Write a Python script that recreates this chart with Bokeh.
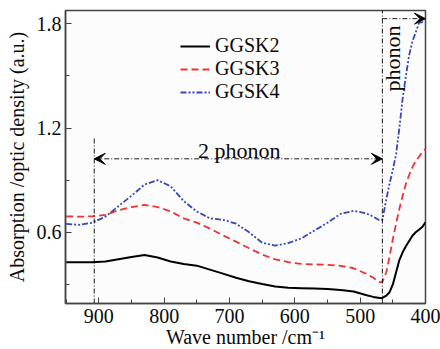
import math
from bokeh.plotting import figure
from bokeh.models import (Range1d, FixedTicker, Legend, LegendItem, Arrow,
                          VeeHead, Label, ColumnDataSource)
from bokeh.embed import file_html
from bokeh.resources import INLINE

# ---------------- data ----------------
wavenumber = [950, 930, 910, 890, 870, 850, 830, 810, 790, 770, 750, 730, 710,
              690, 670, 650, 630, 610, 590, 570, 550, 530, 510, 490, 480, 470,
              466, 460, 455, 450, 445, 440, 435, 430, 425, 420, 415, 410, 405, 400]

ggsk2 = [0.427, 0.427, 0.427, 0.432, 0.445, 0.458, 0.469, 0.455, 0.432, 0.418,
         0.408, 0.385, 0.362, 0.338, 0.318, 0.302, 0.288, 0.280, 0.278, 0.276,
         0.273, 0.268, 0.259, 0.238, 0.228, 0.222, 0.222, 0.235, 0.255, 0.300,
         0.370, 0.440, 0.485, 0.520, 0.550, 0.580, 0.600, 0.615, 0.630, 0.658]

ggsk3 = [0.692, 0.690, 0.692, 0.700, 0.727, 0.745, 0.758, 0.745, 0.720, 0.680,
         0.656, 0.621, 0.583, 0.546, 0.508, 0.472, 0.444, 0.428, 0.418, 0.415,
         0.413, 0.407, 0.393, 0.360, 0.338, 0.312, 0.315, 0.370, 0.460, 0.560,
         0.650, 0.735, 0.810, 0.880, 0.930, 0.975, 1.010, 1.035, 1.060, 1.080]

ggsk4 = [0.648, 0.643, 0.655, 0.690, 0.750, 0.810, 0.875, 0.900, 0.865, 0.780,
         0.720, 0.680, 0.672, 0.650, 0.600, 0.540, 0.523, 0.538, 0.565, 0.610,
         0.655, 0.706, 0.724, 0.708, 0.690, 0.668, 0.672, 0.790, 0.880, 0.960,
         1.050, 1.200, 1.370, 1.500, 1.620, 1.700, 1.750, 1.805, 1.810, 1.810]

series_names = ["GGSK2", "GGSK3", "GGSK4"]

x_ticks = [900, 800, 700, 600, 500, 400]
x_minor = [950, 850, 750, 650, 550, 450]
y_ticks = [0.6, 1.2, 1.8]
y_minor = [0.3, 0.9, 1.5]

# annotation values
two_phonon_edges = [907, 466]      # wavenumbers of the dash-dot guides
left_guide_top = 1.14
two_phonon_level = 1.023
two_phonon_text_pos = (685, 1.07)
phonon_level = 1.83
phonon_text_pos = (451, 1.60)

# ---------------- figure ----------------
FONT = "Liberation Serif"
FS = "20px"
AX = "#444444"
TXT = "#0a0a0a"

p = figure(frame_width=360, frame_height=293, output_backend="svg",
           toolbar_location=None,
           x_range=Range1d(951, 400), y_range=Range1d(0.19, 1.877),
           min_border_left=65, min_border_right=15, min_border_top=10,
           min_border_bottom=46)
p.background_fill_color = "#fcfcfc"
p.border_fill_color = "#ffffff"
p.outline_line_color = AX
p.outline_line_width = 1.5
p.xgrid.visible = False
p.ygrid.visible = False

for ax in (p.xaxis[0], p.yaxis[0]):
    ax.axis_line_color = AX
    ax.axis_line_width = 1.5
    ax.major_tick_line_color = AX
    ax.minor_tick_line_color = AX
    ax.major_tick_in = 6
    ax.major_tick_out = 0
    ax.minor_tick_in = 4
    ax.minor_tick_out = 0
    ax.major_label_text_font = FONT
    ax.major_label_text_font_size = FS
    ax.major_label_text_color = TXT
    ax.axis_label_text_font = FONT
    ax.axis_label_text_font_size = FS
    ax.axis_label_text_font_style = "normal"
    ax.axis_label_text_color = TXT

p.xaxis.ticker = FixedTicker(ticks=x_ticks, minor_ticks=x_minor)
p.yaxis.ticker = FixedTicker(ticks=y_ticks, minor_ticks=y_minor)
p.xaxis.major_label_standoff = 5
p.xaxis.axis_label_standoff = 0
p.yaxis.major_label_standoff = 4
p.yaxis.axis_label_standoff = 6
p.xaxis.axis_label = "Wave number /cm\u207b\u00b9"
p.yaxis.axis_label = "Absorption /optic density (a.u.)"

src = ColumnDataSource(dict(w=wavenumber, a=ggsk2, b=ggsk3, c=ggsk4))
r2 = p.line("w", "a", source=src, line_color="black", line_width=2)
r3 = p.line("w", "b", source=src, line_color="#f03232", line_width=1.8,
            line_dash="7 4")
r4 = p.line("w", "c", source=src, line_color="#3548b4", line_width=1.8,
            line_dash="6 2 2 2 2 2")

# dash-dot guide lines
guide = dict(line_color="black", line_width=0.9, line_dash="5 2 1 2")
p.segment(x0=[two_phonon_edges[0], two_phonon_edges[1]],
          y0=[0.19, 0.19],
          x1=[two_phonon_edges[0], two_phonon_edges[1]],
          y1=[left_guide_top, 1.877], **guide)

p.add_layout(Arrow(start=VeeHead(size=11, fill_color="black", line_color="black"),
                   end=VeeHead(size=11, fill_color="black", line_color="black"),
                   x_start=two_phonon_edges[0], y_start=two_phonon_level,
                   x_end=two_phonon_edges[1], y_end=two_phonon_level, **guide))
p.add_layout(Arrow(start=None,
                   end=VeeHead(size=11, fill_color="black", line_color="black"),
                   x_start=two_phonon_edges[1], y_start=phonon_level,
                   x_end=400, y_end=phonon_level, **guide))

p.add_layout(Label(x=two_phonon_text_pos[0], y=two_phonon_text_pos[1],
                   text="2 phonon", text_font=FONT, text_font_size="22px",
                   text_align="center", text_baseline="alphabetic",
                   text_color=TXT))
p.add_layout(Label(x=phonon_text_pos[0], y=phonon_text_pos[1],
                   text="phonon", text_font=FONT, text_font_size="22px",
                   text_align="center", text_baseline="middle",
                   angle=math.pi / 2, text_color=TXT))

legend = Legend(items=[LegendItem(label=series_names[0], renderers=[r2]),
                       LegendItem(label=series_names[1], renderers=[r3]),
                       LegendItem(label=series_names[2], renderers=[r4])],
                location=(115, 200), padding=0, margin=0, spacing=-4,
                glyph_width=30, glyph_height=20, label_height=20,
                label_standoff=5, label_text_font=FONT,
                label_text_font_size=FS, label_text_color=TXT,
                border_line_color=None, background_fill_alpha=0)
p.add_layout(legend, "center")

open("out.html", "w").write(file_html(p, INLINE))
